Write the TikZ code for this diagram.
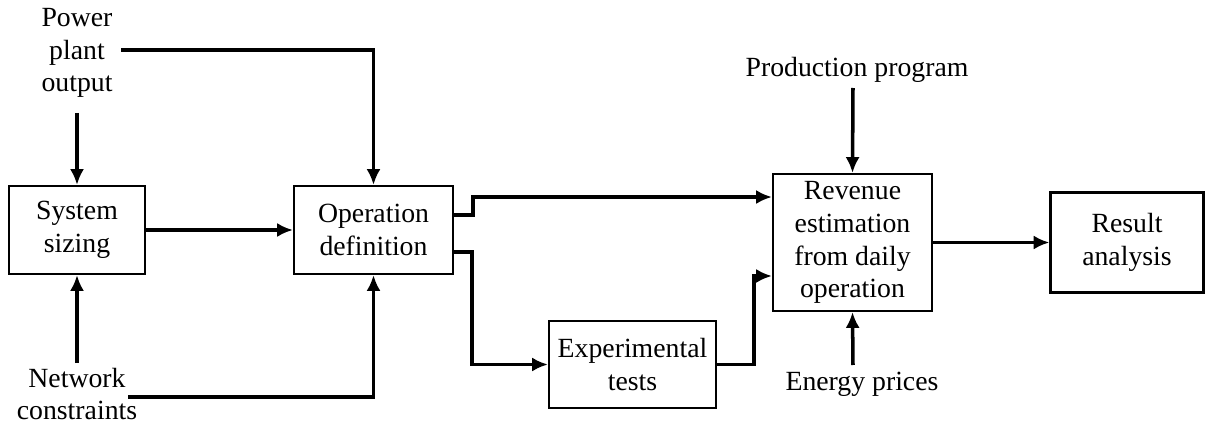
\documentclass[tikz,border=0pt]{standalone}
\usepackage{fontspec}
\setmainfont{Liberation Serif}
\usetikzlibrary{arrows.meta}

\tikzset{
  block/.style={draw, line width=1.2pt, align=center, inner sep=0pt},
  label/.style={align=center, inner sep=0pt},
  flow/.style={-{Latex[length=9pt,width=8pt]}, line width=2pt}
}

\begin{document}
\begin{tikzpicture}[x=0.02cm, y=-0.02cm,
  font=\fontsize{15.8}{18.7}\selectfont]

\useasboundingbox (0,0) rectangle (1205,429);

% blocks
\node [block, minimum width=2.72cm, minimum height=1.76cm] (ss) at (77,230) {System\\sizing};
\node [block, minimum width=3.18cm, minimum height=1.76cm] (od) at (373.5,230) {Operation\\definition};
\node [block, minimum width=3.34cm, minimum height=1.74cm] (et) at (632.5,364.5) {Experimental\\tests};
\node [block, minimum width=3.18cm, minimum height=2.74cm] (re) at (852.5,242.5) {Revenue\\estimation\\from daily\\operation};
\node [block, minimum width=3.06cm, minimum height=2.0cm] (ra) at (1127,242.5) {Result\\analysis};

% inputs
\node [label] (pp) at (77,53) {Power\\plant\\output};
\node [label] (nc) at (77,394) {Network\\constraints};
\node [label] (prod) at (857,70) {Production program};
\node [label] (ep) at (862,384) {Energy prices};

\coordinate (ppdown) at (77,113);
\coordinate (ppright) at (121,50);
\coordinate (ncup) at (77,363);
\coordinate (ncright) at (128,397);
\coordinate (prodown) at (853,88);
\coordinate (epup) at (853,365);

\draw [flow] (ppdown) -- (ss.north);
\draw [flow] (ppright) -| (od.north);
\draw [flow] (ncup) -- (ss.south);
\draw [flow] (ncright) -| (od.south);
\draw [flow] (ss) -- (od);

% to revenue estimation
\draw [flow] ([yshift=0.3cm]od.east) -- ++(19,0) |- ([yshift=0.91cm]re.west);
\draw [flow] ([yshift=-0.44cm]od.east) -- ++(18,0) |- (et.west);
\draw [flow] (et.east) -- ++(37,0) |- ([yshift=-0.67cm]re.west);
\draw [flow] (prodown) -- (re.north);
\draw [flow] (epup) -- (re.south);
\draw [flow] (re) -- (ra);

\end{tikzpicture}
\end{document}
